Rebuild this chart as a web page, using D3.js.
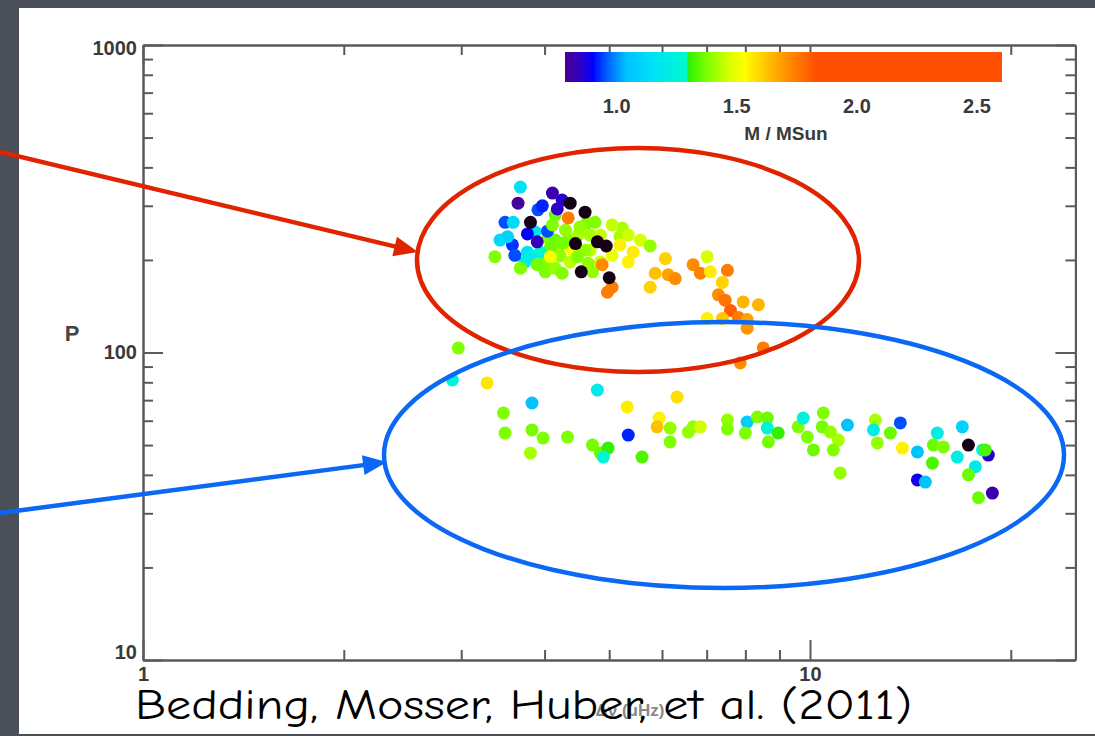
<!DOCTYPE html>
<html>
<head>
<meta charset="utf-8">
<script src="https://cdn.jsdelivr.net/npm/d3@7"></script>
<style>
  html, body { margin: 0; padding: 0; background: #4a4f5a; }
  svg { display: block; }
</style>
</head>
<body>
<svg id="chart" width="1095" height="736"></svg>
<script>
// Red giants: large frequency separation (μHz), period spacing P (s), mass (M / MSun)
const dnu = [
  // body of the dense clump
  4.05, 4.19, 4.34, 4.49, 4.68, 4.85, 5.05, 5.23, 5.57, 3.87, 3.58, 3.74, 4.01, 4.15, 4.40, 3.91, 4.25, 3.43,
  4.15, 4.30, 4.68, 4.22, 4.37, 4.01, 4.08, 3.94, 4.72, 4.85, 5.19, 3.77, 4.60, 4.15, 4.63, 4.48, 4.65,
  // hydrogen-shell burning (upper branch)
  3.68, 4.11, 3.65, 3.97, 4.18, 3.49, 3.59, 3.52, 3.77, 3.90, 4.04, 4.34, 4.11, 4.27, 4.52, 4.76,
  5.05, 5.34, 5.19, 5.43, 5.76, 3.37, 3.61, 3.81, 3.68, 3.90, 4.08, 4.25, 4.88, 5.05, 4.97,
  6.07, 5.86, 6.13, 6.28, 5.76, 6.68, 6.85, 7.01, 7.09, 7.52, 7.39, 7.29, 7.46, 7.60, 7.81,
  7.94, 8.37, 7.01, 7.39, 8.05, 8.05, 8.51, 7.86, 5.34,
  4.37, 4.60, 3.81, 4.45, 4.95, 4.54, 5.00, 4.80,
  // helium-core burning (lower branch)
  2.97, 2.91, 3.28, 3.83, 4.80, 5.32, 6.32, 3.47, 3.49, 3.83, 3.98, 4.33, 3.81, 4.72, 4.85,
  4.98, 4.90, 5.34, 5.60, 5.94, 5.90, 6.17, 6.17, 6.57, 6.68, 6.85, 7.52, 7.52, 8.05, 8.34,
  8.63, 8.00, 8.63, 8.96, 8.66, 9.60, 9.77, 10.47, 9.91, 10.12, 10.43, 10.73, 11.03, 10.84,
  11.38, 12.53, 12.62, 12.45, 13.66, 13.20, 13.76, 11.10, 14.49, 15.52, 15.31, 15.85, 15.26,
  16.92, 16.63, 17.28, 18.51, 18.14, 18.32, 17.70, 17.28, 14.49, 14.89, 17.89, 18.77
];
const period = [
  236, 215, 232, 241, 215, 197, 207, 254, 232, 247, 224, 197, 183, 188, 215, 291, 313, 232,
  280, 250, 241, 206, 197, 197, 219, 212, 183, 241, 238, 212, 215, 232, 264, 205, 195,
  345, 330, 306, 300, 293, 265, 265, 238, 243, 229, 248, 274, 260, 227, 256, 265,
  260, 241, 224, 212, 222, 205, 207, 205, 188, 193, 205, 181, 193, 163, 157,
  202, 181, 179, 174, 163, 193, 181, 205, 183, 185, 169, 154, 148, 137, 130,
  146, 143, 129, 129, 128, 120, 103.5, 92.5, 197,
  306, 286, 265, 226, 222, 183, 175, 229,
  103.5, 81.4, 79.6, 68.5, 75.5, 66.5, 71.6, 63.6, 54.7, 56.0, 52.7, 53.1, 47.1, 50.0, 47.1,
  48.9, 45.7, 53.9, 45.7, 61.2, 57.3, 56.8, 51.2, 55.1, 57.3, 57.3, 60.3, 56.4, 59.4, 61.7,
  61.2, 54.7, 56.8, 54.7, 51.2, 57.3, 61.2, 63.6, 53.1, 48.2, 57.3, 55.1, 51.9, 48.2,
  58.1, 60.3, 50.8, 56.0, 59.0, 54.7, 48.9, 40.6, 47.5, 54.7, 50.0, 49.3, 43.7,
  57.3, 45.7, 50.0, 46.4, 48.2, 48.2, 42.5, 40.0, 38.5, 37.9, 33.7, 34.9
];
const mass = [
  1.38, 1.40, 1.38, 1.42, 1.44, 1.46, 1.50, 1.42, 1.47, 1.15, 0.93, 1.25, 1.38, 1.40, 1.52, 0.95, 0.86, 1.12,
  1.36, 1.40, 1.42, 1.40, 1.44, 1.38, 1.36, 1.28, 1.40, 1.45, 1.42, 1.15, 1.40, 1.36, 1.38, 1.38, 1.40,
  1.15, 0.82, 0.80, 0.92, 0.85, 0.95, 1.12, 1.10, 0.90, 0.83, 0.95, 1.75, 1.38, 1.37, 1.40, 1.38,
  1.45, 1.46, 1.55, 1.56, 1.40, 1.38, 0.95, 1.20, 1.38, 1.37, 1.52, 1.38, 1.72, 1.75, 1.75,
  1.60, 1.63, 1.68, 1.72, 1.60, 1.72, 1.74, 1.47, 1.56, 1.75, 1.60, 1.72, 1.76, 1.80, 1.75,
  1.65, 1.65, 1.55, 1.62, 1.68, 1.70, 1.75, 1.72, 1.55,
  0.70, 0.70, 0.70, 0.70, 0.70, 0.70, 0.70, 0.70,
  1.38, 1.25, 1.57, 1.05, 1.20, 1.56, 1.58, 1.38, 1.38, 1.37, 1.38, 1.38, 1.42, 1.37, 1.36,
  1.30, 1.27, 0.92, 1.33, 1.55, 1.63, 1.40, 1.38, 1.40, 1.40, 1.46, 1.40, 1.38, 1.08, 1.38,
  1.36, 1.38, 1.28, 1.30, 1.37, 1.38, 1.25, 1.38, 1.38, 1.36, 1.37, 1.40, 1.42, 1.38,
  1.05, 1.42, 1.40, 1.22, 0.95, 1.36, 1.55, 1.40, 1.05, 1.22, 1.36, 1.38, 1.33,
  1.10, 1.22, 0.70, 0.86, 1.25, 1.33, 1.20, 1.36, 0.88, 1.05, 1.36, 0.82
];

// Axis ticks
const xMajorTicks = [1, 10];
const xMinorTicks = [2, 3, 4, 5, 6, 7, 8, 9, 20];
const yMajorTicks = [10, 100, 1000];
const yMinorTicks = [20, 30, 40, 50, 60, 70, 80, 90, 200, 300, 400, 500, 600, 700, 800, 900];
const massTicks = [1.0, 1.5, 2.0, 2.5];

// Colour table for mass (below-range values fall to black)
const massStops  = [0.70, 0.785, 0.86, 0.90, 0.96, 1.04, 1.14, 1.29, 1.30, 1.38, 1.46, 1.53, 1.63, 1.71, 1.80, 1.83, 2.61];
const massColors = ["#180016", "#4b0090", "#2800d0", "#0000ff", "#0060ff", "#00c0ff", "#00e0f8", "#00f8d0",
                    "#30f000", "#80ff00", "#d0ff00", "#ffff00", "#ffc000", "#ff9000", "#ff6000", "#ff5000", "#ff5000"];

const svg = d3.select("#chart");
const W = 1095, H = 736;

// slide background and white panel
svg.append("rect").attr("width", W).attr("height", H).attr("fill", "#4a4f5a");
svg.append("rect").attr("x", 19).attr("y", 8).attr("width", W - 19).attr("height", 726).attr("fill", "#ffffff");

const x = d3.scaleLog().domain([1, 25]).range([143, 1075.4]);
const y = d3.scaleLog().domain([10, 1000]).range([660, 45]);
const color = d3.scaleLinear().domain(massStops).range(massColors).clamp(true);

const defs = svg.append("defs");
defs.append("filter").attr("id", "soft")
  .append("feGaussianBlur").attr("stdDeviation", 0.7);

// points
const pts = d3.range(dnu.length).map(i => ({ d: dnu[i], p: period[i], m: mass[i] }));
svg.append("g").attr("filter", "url(#soft)")
  .selectAll("circle").data(pts).join("circle")
  .attr("cx", d => x(d.d))
  .attr("cy", d => y(d.p))
  .attr("r", 6.5)
  .attr("fill", d => color(d.m));

// axes
const axisColor = "#5a5a5a";
const labelFont = "'Liberation Sans', Arial, sans-serif";
function styleAxis(g) {
  g.selectAll("path.domain").attr("stroke", axisColor).attr("stroke-width", 2);
  g.selectAll(".tick line").attr("stroke", axisColor).attr("stroke-width", 2);
  g.selectAll(".tick text").attr("fill", "#3a3a3a").attr("font-size", 20)
    .attr("font-weight", "bold").attr("font-family", labelFont);
}
const none = () => "";

// left
svg.append("g").attr("transform", "translate(143,0)")
  .call(d3.axisLeft(y).tickValues(yMinorTicks).tickSize(-10).tickSizeOuter(0).tickFormat(none)).call(styleAxis);
const yl = svg.append("g").attr("transform", "translate(143,0)")
  .call(d3.axisLeft(y).tickValues(yMajorTicks).tickSize(-20).tickSizeOuter(0).tickPadding(6).tickFormat(d3.format("d"))).call(styleAxis);
yl.selectAll(".tick text").filter(d => d === 10).attr("dy", "-0.1em");
yl.selectAll(".tick text").filter(d => d === 1000).attr("dy", "0.45em");
// right
svg.append("g").attr("transform", "translate(1075.4,0)")
  .call(d3.axisRight(y).tickValues(yMinorTicks).tickSize(-10).tickSizeOuter(0).tickFormat(none)).call(styleAxis);
svg.append("g").attr("transform", "translate(1075.4,0)")
  .call(d3.axisRight(y).tickValues(yMajorTicks).tickSize(-20).tickSizeOuter(0).tickFormat(none)).call(styleAxis);
// bottom
svg.append("g").attr("transform", "translate(0,660)")
  .call(d3.axisBottom(x).tickValues(xMinorTicks).tickSize(-10).tickSizeOuter(0).tickFormat(none)).call(styleAxis);
svg.append("g").attr("transform", "translate(0,660)")
  .call(d3.axisBottom(x).tickValues(xMajorTicks).tickSize(-20).tickSizeOuter(0).tickPadding(7).tickFormat(d3.format("d"))).call(styleAxis);
// top
svg.append("g").attr("transform", "translate(0,45)")
  .call(d3.axisTop(x).tickValues(xMinorTicks).tickSize(-10).tickSizeOuter(0).tickFormat(none)).call(styleAxis);
svg.append("g").attr("transform", "translate(0,45)")
  .call(d3.axisTop(x).tickValues(xMajorTicks).tickSize(-20).tickSizeOuter(0).tickFormat(none)).call(styleAxis);

// axis titles
svg.append("text").attr("x", 72).attr("y", 341).attr("text-anchor", "middle")
  .attr("font-family", labelFont).attr("font-size", 22).attr("font-weight", "bold").attr("fill", "#444").text("P");
svg.append("text").attr("x", 630).attr("y", 716).attr("text-anchor", "middle")
  .attr("font-family", labelFont).attr("font-size", 17).attr("font-weight", "bold").attr("fill", "#888").text("Δν (μHz)");

// colour bar
const cb = d3.scaleLinear().domain([0.785, 2.604]).range([565, 1002]);
const grad = defs.append("linearGradient").attr("id", "massbar")
  .attr("gradientUnits", "userSpaceOnUse").attr("x1", 565).attr("x2", 1002).attr("y1", 0).attr("y2", 0);
massStops.forEach((m, i) => {
  const off = (cb(m) - 565) / (1002 - 565);
  if (off >= 0 && off <= 1) grad.append("stop").attr("offset", off).attr("stop-color", massColors[i]);
});
svg.append("rect").attr("x", 565).attr("y", 52).attr("width", 437).attr("height", 30)
  .attr("fill", "url(#massbar)").attr("filter", "url(#soft)");
svg.append("g").selectAll("text").data(massTicks).join("text")
  .attr("x", d => cb(d)).attr("y", 113).attr("text-anchor", "middle")
  .attr("font-family", labelFont).attr("font-size", 20).attr("font-weight", "bold").attr("fill", "#3a3a3a")
  .text(d => d3.format(".1f")(d));
svg.append("text").attr("x", 786).attr("y", 140).attr("text-anchor", "middle")
  .attr("font-family", labelFont).attr("font-size", 19).attr("font-weight", "bold").attr("fill", "#3a3a3a").text("M / MSun");

// highlight ellipses and arrows
const red = "#e02400", blue = "#0a68f5";
svg.append("ellipse").attr("cx", 638).attr("cy", 260).attr("rx", 221).attr("ry", 112)
  .attr("fill", "none").attr("stroke", red).attr("stroke-width", 4.5);
svg.append("ellipse").attr("cx", 724).attr("cy", 455).attr("rx", 340).attr("ry", 133)
  .attr("fill", "none").attr("stroke", blue).attr("stroke-width", 4.5);

function arrow(x0, y0, x1, y1, c) {
  const a = Math.atan2(y1 - y0, x1 - x0), L = 24, hw = 10;
  const bx = x1 - L * Math.cos(a), by = y1 - L * Math.sin(a);
  svg.append("line").attr("x1", x0).attr("y1", y0).attr("x2", bx + 2 * Math.cos(a)).attr("y2", by + 2 * Math.sin(a))
    .attr("stroke", c).attr("stroke-width", 4.5);
  svg.append("polygon").attr("fill", c).attr("points", [
    [x1, y1],
    [bx - hw * Math.sin(a), by + hw * Math.cos(a)],
    [bx + hw * Math.sin(a), by - hw * Math.cos(a)]
  ].map(p => p.join(",")).join(" "));
}
arrow(0, 152, 418, 252, red);
arrow(0, 513, 387, 462, blue);

// citation
svg.append("text").attr("x", 135).attr("y", 719)
  .attr("font-family", "'Comic Sans MS', 'Comic Neue', 'DejaVu Sans Condensed', 'DejaVu Sans', sans-serif")
  .attr("font-size", 42).attr("fill", "#000")
  .attr("textLength", 777).attr("lengthAdjust", "spacingAndGlyphs")
  .text("Bedding, Mosser, Huber, et al. (2011)");
</script>
</body>
</html>
